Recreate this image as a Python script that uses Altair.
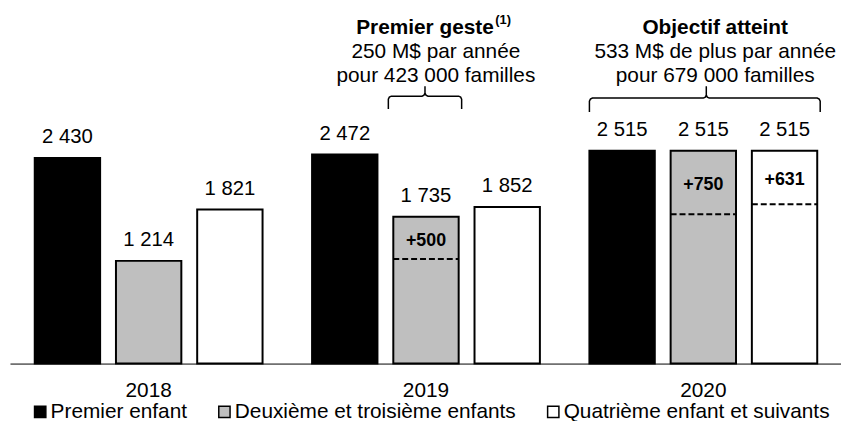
import altair as alt
import pandas as pd

# ---------------- data ----------------
YEARS = ["2018", "2019", "2020"]
CATS = ["Premier enfant", "Deuxième et troisième enfants", "Quatrième enfant et suivants"]
PREMIER = [2430, 2472, 2515]
DEUXIEME = [1214, 1735, 2515]
QUATRIEME = [1821, 1852, 2515]
COLORS = ["#000000", "#BFBFBF", "#FFFFFF"]

INC_YEARS = ["2019", "2020", "2020"]
INC_CATS = [CATS[1], CATS[1], CATS[2]]
INC_VALUES = [500, 750, 631]

ANN_YEARS = ["2019", "2020"]
ANN_TITLES = ["Premier geste", "Objectif atteint"]
ANN_SUP = ["(1)", ""]
ANN_LINE2 = ["250 M$ par année", "533 M$ de plus par année"]
ANN_LINE3 = ["pour 423 000 familles", "pour 679 000 familles"]

FONT = "Liberation Sans"


def fmt(v):
    return f"{v:,}".replace(",", " ")


rows = []
for i, y in enumerate(YEARS):
    for c, vals in zip(CATS, [PREMIER, DEUXIEME, QUATRIEME]):
        rows.append({"year": y, "cat": c, "value": vals[i], "label": fmt(vals[i])})
bars_df = pd.DataFrame(rows)

inc_rows = []
for y, c, inc in zip(INC_YEARS, INC_CATS, INC_VALUES):
    top = bars_df[(bars_df.year == y) & (bars_df.cat == c)]["value"].iloc[0]
    base = top - inc
    inc_rows.append({"year": y, "cat": c, "base": base, "mid": (top + base) / 2, "label": f"+{inc}"})
inc_df = pd.DataFrame(inc_rows)

# ---------------- layout ----------------
STEP = 82.0
BAND = 66.0
GROUP = 280.0
P_IN = (STEP - BAND) / STEP
P_OUT = (GROUP / STEP - 3 + P_IN) / 2

x_enc = alt.X(
    "year:N", sort=YEARS,
    scale=alt.Scale(domain=YEARS, range=[0, 840], paddingInner=0, paddingOuter=0),
    axis=alt.Axis(title=None, labelAngle=0, ticks=False, tickSize=0, domainColor="black",
                  domainWidth=1, labelFontSize=21, labelPadding=16, labelColor="black",
                  labelFont=FONT, grid=False),
)
xo_enc = alt.XOffset("cat:N", sort=CATS,
                     scale=alt.Scale(domain=CATS, paddingInner=P_IN, paddingOuter=P_OUT))
y_scale = alt.Scale(domain=[0, 4180], nice=False, zero=True)

bars = alt.Chart(bars_df).mark_bar(stroke="black", strokeWidth=2).encode(
    x=x_enc, xOffset=xo_enc,
    y=alt.Y("value:Q", scale=y_scale, axis=None),
    color=alt.Color(
        "cat:N", sort=CATS,
        scale=alt.Scale(domain=CATS, range=COLORS),
        legend=alt.Legend(title=None, orient="none", legendX=20, legendY=395,
                          direction="horizontal", symbolType="square", symbolSize=130,
                          symbolStrokeColor="black", symbolStrokeWidth=1.5,
                          labelFontSize=21, labelFont=FONT, labelColor="black",
                          labelOffset=0, columnPadding=27, labelLimit=600, padding=0),
    ),
)

value_labels = alt.Chart(bars_df).mark_text(
    dy=-15, baseline="alphabetic", fontSize=20.5, font=FONT, color="black"
).encode(x=x_enc, xOffset=xo_enc, y=alt.Y("value:Q", scale=y_scale, axis=None), text="label:N")

dashes = alt.Chart(inc_df).mark_bar(
    fillOpacity=0, stroke="black", strokeWidth=2, strokeDash=[6, 3]
).encode(x=x_enc, xOffset=xo_enc, y=alt.Y("base:Q", scale=y_scale, axis=None), y2="base:Q")

inc_labels = alt.Chart(inc_df).mark_text(
    fontWeight="bold", fontSize=18, font=FONT, baseline="middle", dy=3, color="black"
).encode(x=x_enc, xOffset=xo_enc, y=alt.Y("mid:Q", scale=y_scale, axis=None), text="label:N")

# annotation blocks above the bars
TITLE_DX = [-1, 12]
BODY_DX = [10, 12]
SUP_DX = [70, 0]
ann_layers = []
for i, yr in enumerate(ANN_YEARS):
    d = pd.DataFrame({"year": [yr], "title": [ANN_TITLES[i]], "sup": [ANN_SUP[i]],
                      "l2": [ANN_LINE2[i]], "l3": [ANN_LINE3[i]]})
    base = alt.Chart(d)
    ann_layers.append(base.mark_text(fontWeight="bold", fontSize=21, font=FONT, color="black",
                                     baseline="alphabetic", align="center", dx=TITLE_DX[i])
                      .encode(x=x_enc, y=alt.value(24), text="title:N"))
    if ANN_SUP[i]:
        ann_layers.append(base.mark_text(fontWeight="bold", fontSize=13, font=FONT, color="black",
                                         baseline="alphabetic", align="left", dx=SUP_DX[i])
                          .encode(x=x_enc, y=alt.value(14), text="sup:N"))
    ann_layers.append(base.mark_text(fontSize=21, font=FONT, color="black",
                                     baseline="alphabetic", align="center", dx=BODY_DX[i])
                      .encode(x=x_enc, y=alt.value(48), text="l2:N"))
    ann_layers.append(base.mark_text(fontSize=21, font=FONT, color="black",
                                     baseline="alphabetic", align="center", dx=BODY_DX[i])
                      .encode(x=x_enc, y=alt.value(73), text="l3:N"))

# curly braces (pixel geometry of the annotation)
BRACES = [(382, 456, 419, 77, 87, 100), (585, 818, 703, 77, 89, 103)]
pts = []
for b, (L, R, C, T, H, B) in enumerate(BRACES):
    path = [(L, B), (L, H + 3), (L + 1, H + 1), (L + 3, H), (C - 3, H), (C - 1, H - 1), (C, H - 3),
            (C, T), (C, H - 3), (C + 1, H - 1), (C + 3, H), (R - 3, H), (R - 1, H + 1), (R, H + 3), (R, B)]
    for k, (px, py) in enumerate(path):
        pts.append({"id": b, "k": k, "px": px, "py": py})
brace_df = pd.DataFrame(pts)
braces = alt.Chart(brace_df).mark_line(stroke="black", strokeWidth=1.5).encode(
    x=alt.X("px:Q", scale=None), y=alt.Y("py:Q", scale=None), detail="id:N", order="k:Q"
)

chart = alt.layer(bars, value_labels, dashes, inc_labels, *ann_layers, braces).properties(
    width=839, height=357,
    autosize=alt.AutoSizeParams(type="none"),
    padding={"left": 2, "top": 0, "right": 0, "bottom": 56},
).configure_view(stroke=None)

chart.save("out.html", embed_options={"renderer": "svg", "actions": False})
